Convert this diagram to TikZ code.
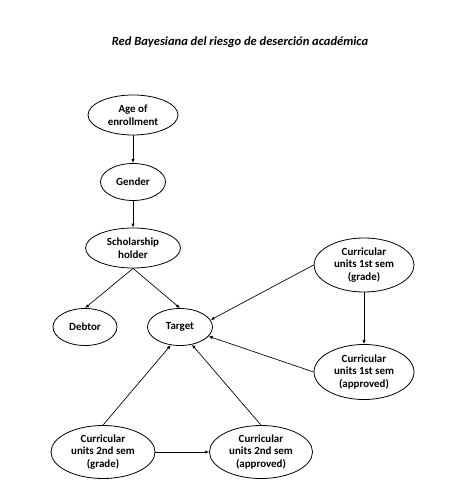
\documentclass[tikz,border=0pt]{standalone}
\usepackage{fontspec}
\setmainfont{Carlito}
\usetikzlibrary{shapes.geometric,arrows.meta}
\tikzset{
  bn/.style={draw, ellipse, line width=0.6pt, inner sep=0pt, align=center,
    font=\fontsize{8.2}{9.6}\selectfont\bfseries},
  arr/.style={-{Latex[length=3pt,width=2.4pt]}, line width=0.5pt}
}
\begin{document}
\begin{tikzpicture}[x=0.75pt,y=-0.75pt]
\useasboundingbox (0,0) rectangle (475,498);
\fill[white] (0,0) rectangle (475,498);
\node (title) at (240,42) {\fontsize{9.4}{11}\selectfont\bfseries\itshape Red Bayesiana del riesgo de deserción académica};
\node[bn, minimum width=90*0.75pt, minimum height=40*0.75pt] (age) at (133,115) {Age of\\enrollment};
\node[bn, minimum width=65*0.75pt, minimum height=37*0.75pt] (gender) at (133,182) {Gender};
\node[bn, minimum width=95*0.75pt, minimum height=40*0.75pt] (schol) at (133,248) {Scholarship\\holder};
\node[bn, minimum width=64*0.75pt, minimum height=37*0.75pt] (debtor) at (85,327) {Debtor};
\node[bn, minimum width=65*0.75pt, minimum height=37*0.75pt] (target) at (180,327) {Target};
\node[bn, minimum width=100*0.75pt, minimum height=54*0.75pt] (cog) at (364,265) {Curricular\\units 1st sem\\(grade)};
\node[bn, minimum width=100*0.75pt, minimum height=55*0.75pt] (coa) at (364,372) {Curricular\\units 1st sem\\(approved)};
\node[bn, minimum width=104*0.75pt, minimum height=53*0.75pt] (ctg) at (103,452) {Curricular\\units 2nd sem\\(grade)};
\node[bn, minimum width=103*0.75pt, minimum height=53*0.75pt] (cta) at (261,452) {Curricular\\units 2nd sem\\(approved)};
\draw[arr] (age) -- (gender);
\draw[arr] (gender) -- (schol);
\draw[arr] (schol.south) -- (debtor.north);
\draw[arr] (schol.south) -- (target.north);
\draw[arr] (cog.west) -- (target.13);
\draw[arr] (cog) -- (coa);
\draw[arr] (coa.west) -- (target.-18);
\draw[arr] (ctg.north) -- (target.243);
\draw[arr] (cta.north) -- (target.304);
\draw[arr] (ctg) -- (cta);
\end{tikzpicture}
\end{document}
